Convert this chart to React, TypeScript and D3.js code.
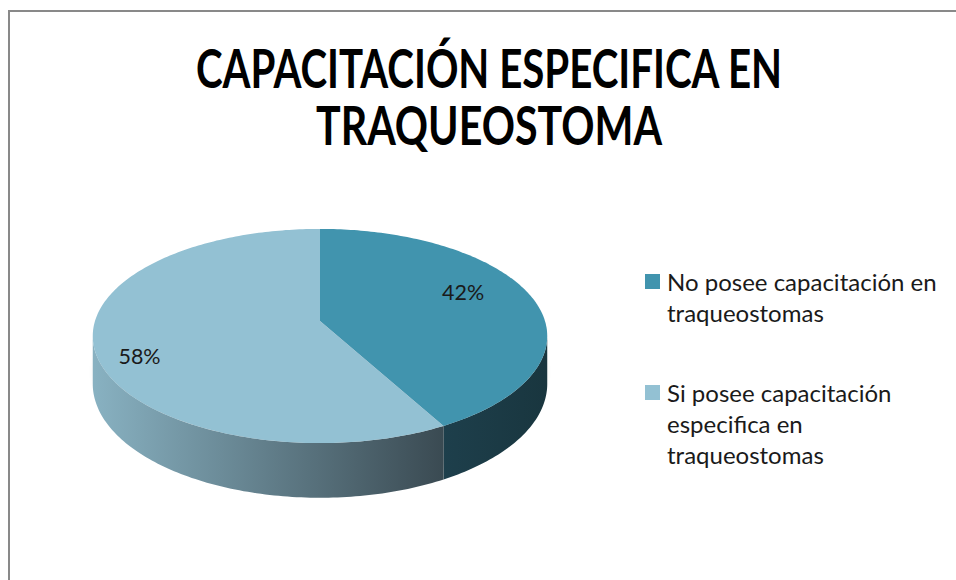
import React from 'react';
import * as d3 from 'd3';

// chart data
const categories = [
  'No posee capacitación en traqueostomas',
  'Si posee capacitación especifica en traqueostomas',
];
const values = [42, 58];
const legendLines = [
  ['No posee capacitación en', 'traqueostomas'],
  ['Si posee capacitación', 'especifica en', 'traqueostomas'],
];
const titleLines = ['CAPACITACIÓN ESPECIFICA EN', 'TRAQUEOSTOMA'];

const topColors = ['#4194ae', '#93c1d3'];
const sideStops = [
  ['#1e404d', '#19363f'],
  ['#88b1c1', '#3a4a52'],
];

const W = 956;
const H = 580;

// 3d pie geometry (slight perspective like the excel one)
const CX = 320;
const CY = 321;
const RX = 225;
const RY = 105;
const P = 0.14;
const DEPTH = 47;

const proj = (a: number, f = 1, drop = 0): [number, number] => {
  const m = 1 / (1 + P * f * Math.cos(a));
  return [CX + RX * f * Math.sin(a) * m, CY - RY * f * Math.cos(a) * m + drop * m];
};

const arcPoints = (s: number, e: number, drop = 0) => {
  const n = Math.max(2, Math.ceil(((e - s) * 180) / Math.PI));
  return d3.range(n + 1).map(i => proj(s + ((e - s) * i) / n, 1, drop));
};

const App = () => {
  const arcs = d3.pie<number>().sort(null).startAngle(0).endAngle(2 * Math.PI)(values);
  const line = d3.line();

  const sil1 = Math.acos(-P);
  const sil2 = 2 * Math.PI - sil1;

  const sides = arcs.map((d, i) => {
    const s = Math.max(d.startAngle, sil1);
    const e = Math.min(d.endAngle, sil2);
    if (e <= s) return null;
    const top = arcPoints(s, e);
    const bottom = arcPoints(s, e, DEPTH).reverse();
    return <path key={i} d={line([...top, ...bottom]) + 'Z'} fill={`url(#side${i})`} />;
  });

  const tops = arcs.map((d, i) => {
    const pts = [[CX, CY] as [number, number], ...arcPoints(d.startAngle, d.endAngle)];
    return <path key={i} d={line(pts) + 'Z'} fill={topColors[i]} />;
  });

  // label spots: excel puts them a bit off the centroid
  const labelFrac = [0.72, 0.83];
  const labelTurn = [-0.155, -0.143];
  const total = d3.sum(values);
  const labels = arcs.map((d, i) => {
    const mid = (d.startAngle + d.endAngle) / 2 + labelTurn[i];
    const [x, y] = proj(mid, labelFrac[i]);
    return (
      <text key={i} x={x} y={y} dy="0.35em" textAnchor="middle"
        style={{ fontFamily: 'Lato', fontSize: 21.5, fill: '#1a1a1a' }}>
        {d3.format('.0%')(d.data / total)}
      </text>
    );
  });

  const legendY = d3.scalePoint<number>().domain([0, 1]).range([283, 394]);

  return (
    <svg width={W} height={H} style={{ position: 'absolute', left: 0, top: 0, background: '#fff' }}>
      <defs>
        {sideStops.map((st, i) => (
          <linearGradient key={i} id={`side${i}`} gradientUnits="userSpaceOnUse"
            x1={i === 0 ? CX + 0.5 * RX : CX - RX} x2={i === 0 ? CX + RX : CX + 0.55 * RX} y1={0} y2={0}>
            <stop offset="0" stopColor={st[0]} />
            <stop offset="1" stopColor={st[1]} />
          </linearGradient>
        ))}
        <filter id="soft" x="-20%" y="-20%" width="140%" height="140%">
          <feGaussianBlur stdDeviation="3" />
        </filter>
      </defs>

      <rect x={9} y={11} width={W + 40} height={H + 40} fill="#fff" stroke="#898989" strokeWidth={2} />

      {titleLines.map((t, i) => (
        <text key={i} x={489} y={88 + i * 57} textAnchor="middle"
          textLength={i === 0 ? 586 : 346} lengthAdjust="spacingAndGlyphs"
          style={{ fontFamily: 'Lato', fontWeight: 700, fontSize: 54, fill: '#000' }}>
          {t}
        </text>
      ))}

      {/* soft shadow under the pie */}
      <ellipse cx={CX} cy={CY + DEPTH + 4} rx={RX} ry={RY * 1.08} fill="#000" opacity={0.12} filter="url(#soft)" />

      <g>{sides}</g>
      <g>{tops}</g>
      <g>{labels}</g>

      <g>
        {categories.map((c, i) => (
          <g key={c} transform={`translate(645,${legendY(i)})`}>
            <rect x={0} y={-9} width={15} height={15} fill={topColors[i]} />
            {legendLines[i].map((l, j) => (
              <text key={j} x={22} y={j * 31} dy="0.35em"
                style={{ fontFamily: 'Lato', fontSize: 24, fill: '#1a1a1a' }}>
                {l}
              </text>
            ))}
          </g>
        ))}
      </g>
    </svg>
  );
};

export default App;
